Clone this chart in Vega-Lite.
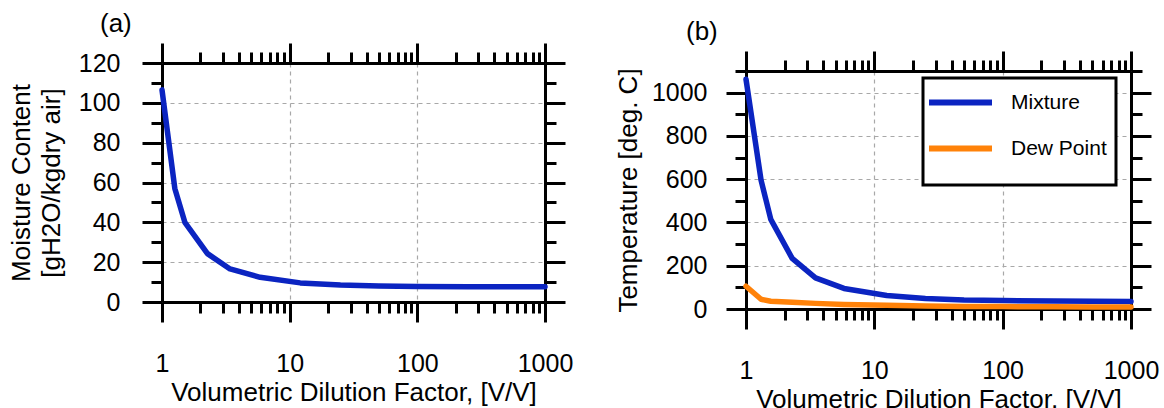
{
  "$schema": "https://vega.github.io/schema/vega-lite/v6.json",
  "padding": {"left": 8, "top": 10, "right": 5, "bottom": 5},
  "config": {
    "font": "Liberation Sans",
    "view": {"stroke": null},
    "legend": {"strokeWidth": 3}
  },
  "resolve": {"legend": {"color": "independent"}},
  "datasets": {
    "moist": [
      {"x": 1, "w": 106.5},
      {"x": 1.26, "w": 57},
      {"x": 1.51, "w": 40},
      {"x": 2.27, "w": 24.3},
      {"x": 3.41, "w": 16.6},
      {"x": 5.87, "w": 12.4},
      {"x": 12.1, "w": 9.6},
      {"x": 25, "w": 8.5},
      {"x": 50, "w": 8.0},
      {"x": 100, "w": 7.8},
      {"x": 250, "w": 7.7},
      {"x": 500, "w": 7.6},
      {"x": 1000, "w": 7.6}
    ],
    "temp": [
      {"x": 1, "T": 1062, "series": "Mixture"},
      {"x": 1.31, "T": 596, "series": "Mixture"},
      {"x": 1.56, "T": 414, "series": "Mixture"},
      {"x": 2.29, "T": 234, "series": "Mixture"},
      {"x": 3.48, "T": 144, "series": "Mixture"},
      {"x": 5.8, "T": 95, "series": "Mixture"},
      {"x": 12.5, "T": 62, "series": "Mixture"},
      {"x": 25, "T": 49, "series": "Mixture"},
      {"x": 50, "T": 42, "series": "Mixture"},
      {"x": 100, "T": 39, "series": "Mixture"},
      {"x": 250, "T": 37, "series": "Mixture"},
      {"x": 500, "T": 36, "series": "Mixture"},
      {"x": 1000, "T": 35, "series": "Mixture"},
      {"x": 1, "T": 105, "series": "Dew Point"},
      {"x": 1.31, "T": 45, "series": "Dew Point"},
      {"x": 1.56, "T": 36, "series": "Dew Point"},
      {"x": 2.29, "T": 31, "series": "Dew Point"},
      {"x": 3.48, "T": 26, "series": "Dew Point"},
      {"x": 5.8, "T": 21, "series": "Dew Point"},
      {"x": 12.5, "T": 17, "series": "Dew Point"},
      {"x": 25, "T": 14, "series": "Dew Point"},
      {"x": 50, "T": 12, "series": "Dew Point"},
      {"x": 100, "T": 11, "series": "Dew Point"},
      {"x": 250, "T": 10, "series": "Dew Point"},
      {"x": 500, "T": 9.5, "series": "Dew Point"},
      {"x": 1000, "T": 9, "series": "Dew Point"}
    ]
  },
  "spacing": 42,
  "hconcat": [
    {
      "width": 383,
      "height": 239,
      "title": {"text": "(a)", "anchor": "start", "frame": "group", "dx": -62, "fontSize": 26, "fontWeight": "normal", "offset": 5, "color": "black"},
      "data": {"name": "moist"},
      "resolve": {"axis": {"x": "independent", "y": "independent"}},
      "layer": [
        {
          "mark": {"type": "line", "color": "#0b24c1", "strokeWidth": 5.5, "strokeCap": "round", "strokeJoin": "round"},
          "encoding": {
            "x": {"field": "x", "type": "quantitative",
              "scale": {"type": "log", "domain": [1, 1000], "nice": false},
              "axis": {
                "orient": "bottom",
                "values": [1,2,3,4,5,6,7,8,9,10,20,30,40,50,60,70,80,90,100,200,300,400,500,600,700,800,900,1000],
                "format": "d",
                "labelExpr": "indexof([1,10,100,1000], datum.value) >= 0 ? datum.label : ''",
                "tickSize": {"condition": {"test": "indexof([1,10,100,1000], datum.value) >= 0", "value": 20}, "value": 11},
                "tickWidth": 3, "tickColor": "black", "domainWidth": 3, "domainColor": "black",
                "labelFontSize": 25, "labelColor": "black", "labelPadding": 29,
                "labelFlush": false, "labelOverlap": false, "labelBound": false,
                "grid": true, "gridColor": "#a8a8a8", "gridDash": [4, 4], "gridWidth": 1.2,
                "gridOpacity": {"condition": {"test": "indexof([10,100], datum.value) >= 0", "value": 1}, "value": 0},
                "title": "Volumetric Dilution Factor, [V/V]", "titleFontSize": 26, "titleFontWeight": "normal", "titleColor": "black", "titlePadding": 3
              }
            },
            "y": {"field": "w", "type": "quantitative",
              "scale": {"domain": [0, 120], "nice": false},
              "axis": {
                "orient": "left",
                "values": [0,10,20,30,40,50,60,70,80,90,100,110,120],
                "format": "d",
                "labelExpr": "datum.value % 20 == 0 ? datum.label : ''",
                "tickSize": {"condition": {"test": "datum.value % 20 == 0", "value": 20}, "value": 11},
                "tickWidth": 3, "tickColor": "black", "domainWidth": 3, "domainColor": "black",
                "labelFontSize": 25, "labelColor": "black", "labelPadding": 22, "labelOverlap": false, "labelBound": false,
                "grid": true, "gridColor": "#a8a8a8", "gridDash": [4, 4], "gridWidth": 1.2,
                "gridOpacity": {"condition": {"test": "datum.value % 20 == 0 && datum.value > 0 && datum.value < 120", "value": 1}, "value": 0},
                "title": ["Moisture Content", "[gH2O/kgdry air]"], "titleFontSize": 26, "titleFontWeight": "normal", "titleColor": "black", "titlePadding": 14, "titleLineHeight": 30
              }
            }
          }
        },
        {
          "mark": {"type": "point", "opacity": 0},
          "encoding": {
            "x": {"field": "x", "type": "quantitative",
              "scale": {"type": "log", "domain": [1, 1000], "nice": false},
              "axis": {
                "orient": "top",
                "values": [1,2,3,4,5,6,7,8,9,10,20,30,40,50,60,70,80,90,100,200,300,400,500,600,700,800,900,1000],
                "labels": false, "grid": false, "title": null,
                "tickSize": {"condition": {"test": "indexof([1,10,100,1000], datum.value) >= 0", "value": 20}, "value": 11},
                "tickWidth": 3, "tickColor": "black", "domainWidth": 3, "domainColor": "black"
              }
            },
            "y": {"field": "w", "type": "quantitative",
              "scale": {"domain": [0, 120], "nice": false},
              "axis": {
                "orient": "right",
                "values": [0,10,20,30,40,50,60,70,80,90,100,110,120],
                "labels": false, "grid": false, "title": null,
                "tickSize": {"condition": {"test": "datum.value % 20 == 0", "value": 20}, "value": 11},
                "tickWidth": 3, "tickColor": "black", "domainWidth": 3, "domainColor": "black"
              }
            }
          }
        }
      ]
    },
    {
      "width": 385,
      "height": 246,
      "title": {"text": "(b)", "anchor": "start", "frame": "group", "dx": -60, "fontSize": 26, "fontWeight": "normal", "offset": 5, "color": "black"},
      "data": {"name": "temp"},
      "resolve": {"axis": {"x": "independent", "y": "independent"}},
      "layer": [
        {
          "mark": {"type": "line", "strokeWidth": 5.5, "strokeCap": "round", "strokeJoin": "round"},
          "encoding": {
            "x": {"field": "x", "type": "quantitative",
              "scale": {"type": "log", "domain": [1, 1000], "nice": false},
              "axis": {
                "orient": "bottom",
                "values": [1,2,3,4,5,6,7,8,9,10,20,30,40,50,60,70,80,90,100,200,300,400,500,600,700,800,900,1000],
                "format": "d",
                "labelExpr": "indexof([1,10,100,1000], datum.value) >= 0 ? datum.label : ''",
                "tickSize": {"condition": {"test": "indexof([1,10,100,1000], datum.value) >= 0", "value": 20}, "value": 11},
                "tickWidth": 3, "tickColor": "black", "domainWidth": 3, "domainColor": "black",
                "labelFontSize": 25, "labelColor": "black", "labelPadding": 29,
                "labelFlush": false, "labelOverlap": false, "labelBound": false,
                "grid": true, "gridColor": "#a8a8a8", "gridDash": [4, 4], "gridWidth": 1.2,
                "gridOpacity": {"condition": {"test": "indexof([10,100], datum.value) >= 0", "value": 1}, "value": 0},
                "title": "Volumetric Dilution Factor, [V/V]", "titleFontSize": 26, "titleFontWeight": "normal", "titleColor": "black", "titlePadding": 3
              }
            },
            "y": {"field": "T", "type": "quantitative",
              "scale": {"domain": [0, 1100], "range": [246, 8], "nice": false},
              "axis": {
                "orient": "left",
                "values": [0,100,200,300,400,500,600,700,800,900,1000,1100],
                "format": "d",
                "labelExpr": "datum.value % 200 == 0 ? datum.label : ''",
                "tickSize": {"condition": {"test": "datum.value % 200 == 0", "value": 20}, "value": 11},
                "tickWidth": 3, "tickColor": "black", "domainWidth": 3, "domainColor": "black",
                "labelFontSize": 25, "labelColor": "black", "labelPadding": 19, "labelOverlap": false, "labelBound": false,
                "grid": true, "gridColor": "#a8a8a8", "gridDash": [4, 4], "gridWidth": 1.2,
                "gridOpacity": {"condition": {"test": "datum.value % 200 == 0 && datum.value > 0", "value": 1}, "value": 0},
                "title": "Temperature [deg. C]", "titleFontSize": 26, "titleFontWeight": "normal", "titleColor": "black", "titlePadding": 10
              }
            },
            "color": {"field": "series", "type": "nominal",
              "scale": {"domain": ["Mixture", "Dew Point"], "range": ["#0b24c1", "#ff8209"]},
              "legend": {
                "title": " ", "titleOrient": "bottom", "titleFontSize": 8, "titlePadding": 7,
                "orient": "top-right", "offset": 15,
                "fillColor": "white", "strokeColor": "black", "padding": 9,
                "symbolType": "M-2.52,0H2.52", "symbolSize": 625, "symbolStrokeWidth": 6, "symbolOffset": 13,
                "labelFontSize": 21, "labelColor": "black", "labelOffset": 35, "rowPadding": 18
              }
            }
          }
        },
        {
          "mark": {"type": "point", "opacity": 0},
          "encoding": {
            "x": {"field": "x", "type": "quantitative",
              "scale": {"type": "log", "domain": [1, 1000], "nice": false},
              "axis": {
                "orient": "top", "offset": -8,
                "values": [1,2,3,4,5,6,7,8,9,10,20,30,40,50,60,70,80,90,100,200,300,400,500,600,700,800,900,1000],
                "labels": false, "grid": false, "title": null,
                "tickSize": {"condition": {"test": "indexof([1,10,100,1000], datum.value) >= 0", "value": 20}, "value": 11},
                "tickWidth": 3, "tickColor": "black", "domainWidth": 3, "domainColor": "black"
              }
            },
            "y": {"field": "T", "type": "quantitative",
              "scale": {"domain": [0, 1100], "range": [246, 8], "nice": false},
              "axis": {
                "orient": "right",
                "values": [0,100,200,300,400,500,600,700,800,900,1000,1100],
                "labels": false, "grid": false, "title": null,
                "tickSize": {"condition": {"test": "datum.value % 200 == 0", "value": 20}, "value": 11},
                "tickWidth": 3, "tickColor": "black", "domainWidth": 3, "domainColor": "black"
              }
            }
          }
        }
      ]
    }
  ]
}
